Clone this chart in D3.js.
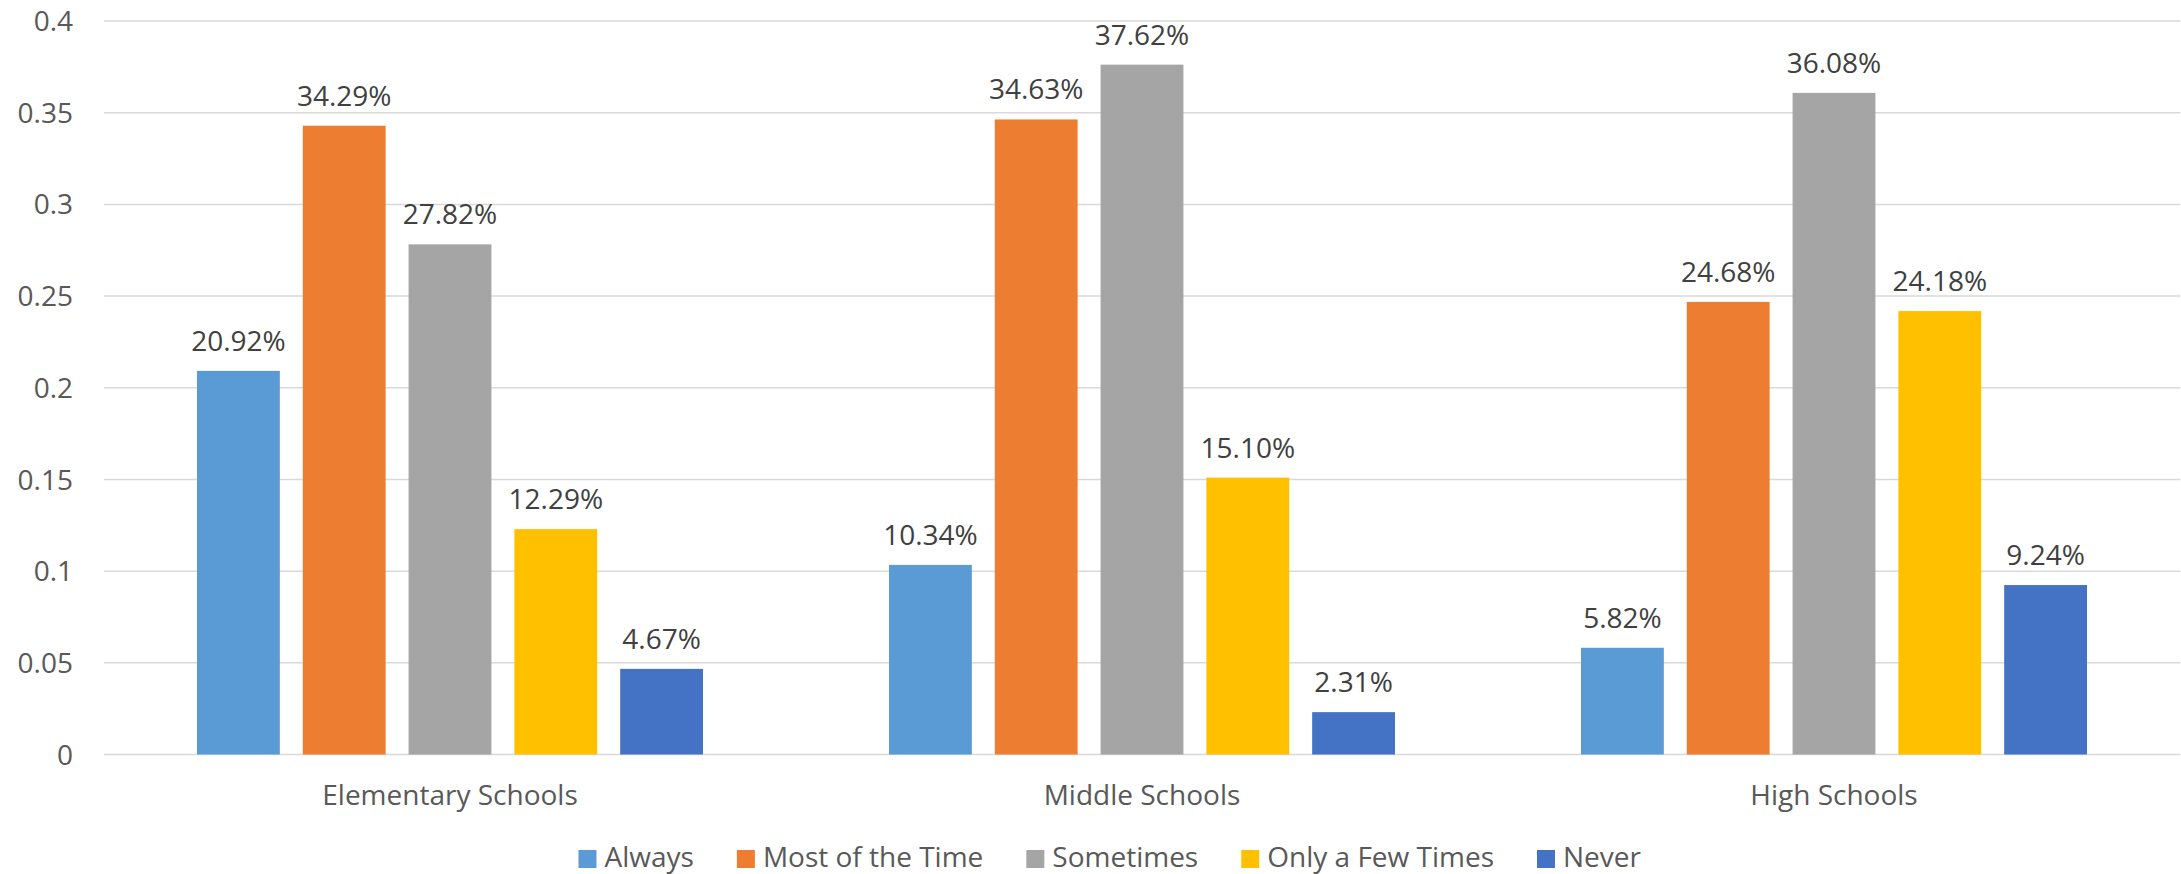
<!DOCTYPE html>
<html lang="en">
<head>
<meta charset="UTF-8">
<title>Responses by school level</title>
<style>
  body { margin: 0; background: #fff; }
  svg text { font-family: "Open Sans", "Noto Sans", sans-serif; }
</style>
</head>
<body>
<svg id="chart"></svg>
<script src="https://cdnjs.cloudflare.com/ajax/libs/d3/7.8.5/d3.min.js"></script>
<script>
// data
var categories = ["Elementary Schools", "Middle Schools", "High Schools"];
var seriesNames = ["Always", "Most of the Time", "Sometimes", "Only a Few Times", "Never"];
var always      = [0.2092, 0.1034, 0.0582];
var mostOfTime  = [0.3429, 0.3463, 0.2468];
var sometimes   = [0.2782, 0.3762, 0.3608];
var fewTimes    = [0.1229, 0.1510, 0.2418];
var never       = [0.0467, 0.0231, 0.0924];
var yTicks = [0, 0.05, 0.1, 0.15, 0.2, 0.25, 0.3, 0.35, 0.4];

var colors = ["#5B9BD5", "#ED7D31", "#A5A5A5", "#FFC000", "#4472C4"];
var seriesValues = [always, mostOfTime, sometimes, fewTimes, never];

var width = 2181, height = 874;
// plot area (note: "top" is a reserved window property, so use other names)
var plotLeft = 104, plotRight = 2180, plotTop = 21, plotBottom = 754.5;

var svg = d3.select("#chart")
  .attr("width", width)
  .attr("height", height);

var y = d3.scaleLinear()
  .domain([0, 0.4])
  .range([plotBottom, plotTop]);

var x0 = d3.scaleBand()
  .domain(categories)
  .range([plotLeft, plotRight]);

// bars inside a group: width ~83, step ~106, group centered
var groupW = x0.bandwidth();
var x1 = d3.scaleBand()
  .domain(seriesNames)
  .range([93, groupW - 93])
  .paddingInner(0.217)
  .paddingOuter(0);

// gridlines
svg.append("g")
  .selectAll("line")
  .data(yTicks)
  .enter().append("line")
  .attr("x1", plotLeft)
  .attr("x2", plotRight)
  .attr("y1", function(d) { return y(d); })
  .attr("y2", function(d) { return y(d); })
  .attr("stroke", "#d9d9d9")
  .attr("stroke-width", 1.5);

// y tick labels
svg.append("g")
  .selectAll("text")
  .data(yTicks)
  .enter().append("text")
  .attr("x", 73)
  .attr("y", function(d) { return y(d); })
  .attr("dy", "0.36em")
  .attr("text-anchor", "end")
  .style("font-size", "28px")
  .attr("fill", "#595959")
  .text(function(d) { return d3.format("")(d); });

// bars
var rows = [];
seriesNames.forEach(function(s, si) {
  categories.forEach(function(c, ci) {
    rows.push({ cat: c, series: s, value: seriesValues[si][ci], color: colors[si] });
  });
});

var barG = svg.append("g");
barG.selectAll("rect")
  .data(rows)
  .enter().append("rect")
  .attr("x", function(d) { return x0(d.cat) + x1(d.series); })
  .attr("y", function(d) { return y(d.value); })
  .attr("width", x1.bandwidth())
  .attr("height", function(d) { return plotBottom - y(d.value); })
  .attr("fill", function(d) { return d.color; });

// data labels
barG.selectAll("text")
  .data(rows)
  .enter().append("text")
  .attr("x", function(d) { return x0(d.cat) + x1(d.series) + x1.bandwidth() / 2; })
  .attr("y", function(d) { return y(d.value) - 20; })
  .attr("text-anchor", "middle")
  .style("font-size", "28px")
  .attr("fill", "#404040")
  .text(function(d) { return (d.value * 100).toFixed(2) + "%"; });

// category labels
svg.append("g")
  .selectAll("text")
  .data(categories)
  .enter().append("text")
  .attr("x", function(d) { return x0(d) + groupW / 2; })
  .attr("y", 805)
  .attr("text-anchor", "middle")
  .style("font-size", "28px")
  .attr("fill", "#595959")
  .text(function(d) { return d; });

// legend
var legend = svg.append("g");
var items = legend.selectAll("g")
  .data(seriesNames)
  .enter().append("g");

items.append("rect")
  .attr("width", 18)
  .attr("height", 18)
  .attr("y", 850)
  .attr("fill", function(d, i) { return colors[i]; });

items.append("text")
  .attr("x", 26)
  .attr("y", 867)
  .style("font-size", "28px")
  .attr("fill", "#595959")
  .text(function(d) { return d; });

var pos = 0;
items.each(function() {
  var w = this.getBBox().width;
  d3.select(this).attr("data-x", pos);
  pos += w + 43;
});
var total = pos - 43;
var start = 1110 - total / 2;
items.attr("transform", function() {
  return "translate(" + (start + (+d3.select(this).attr("data-x"))) + ",0)";
});
</script>
</body>
</html>
